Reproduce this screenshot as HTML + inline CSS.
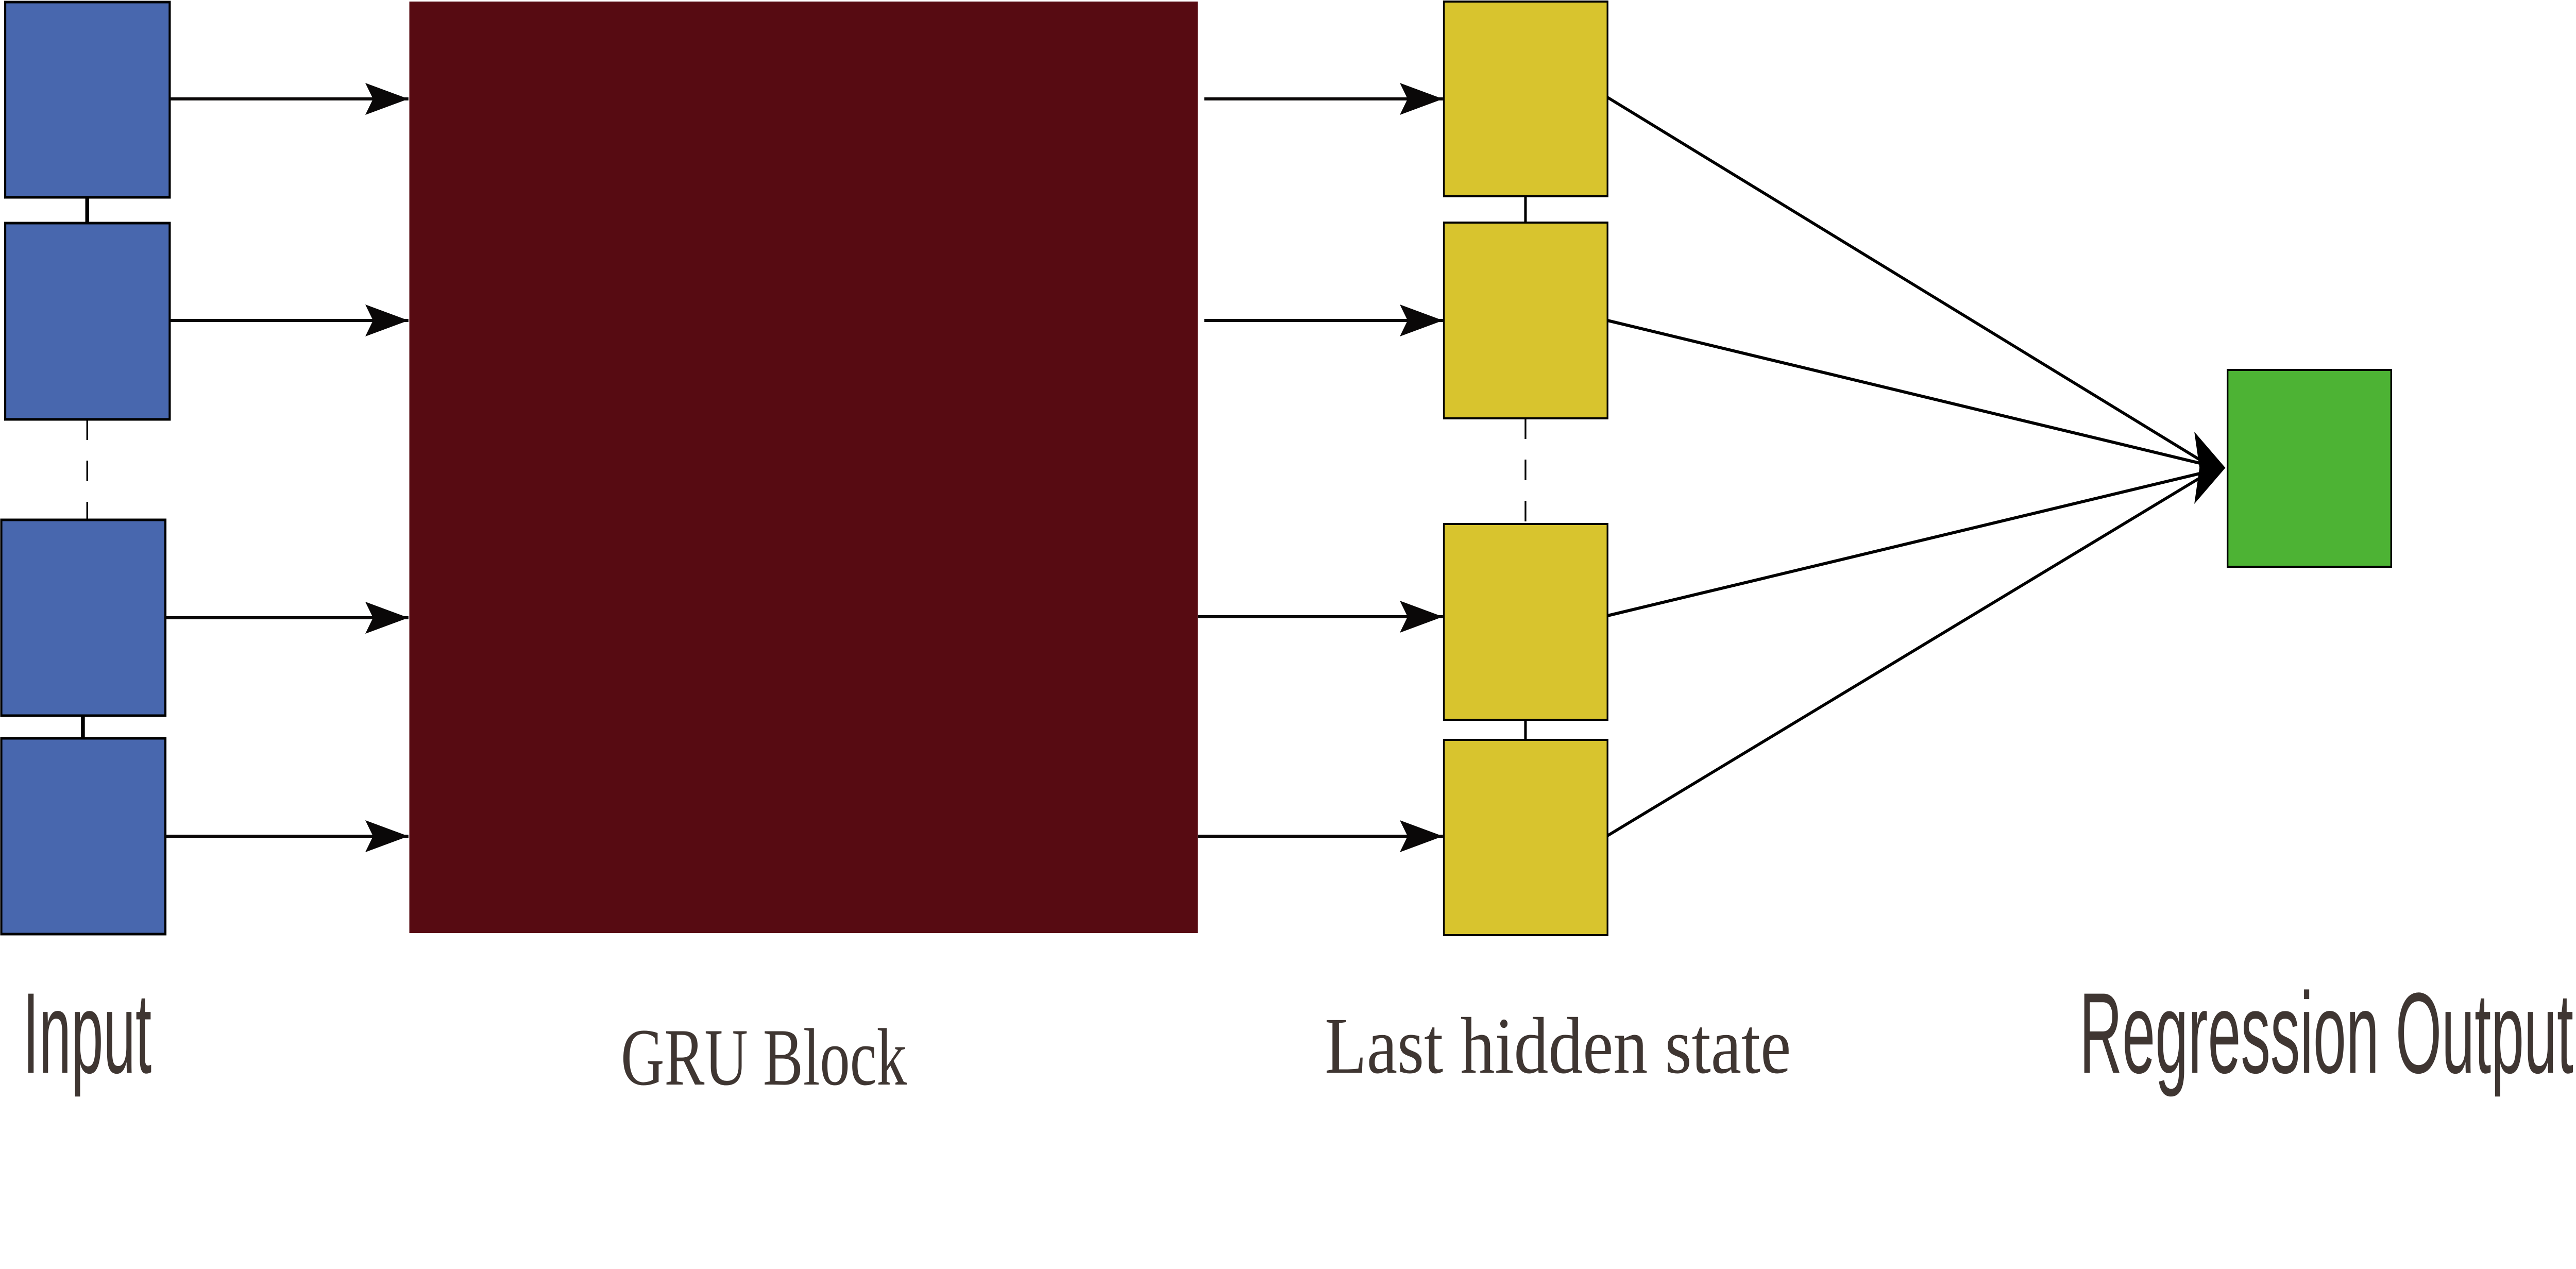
<!DOCTYPE html>
<html><head><meta charset="utf-8"><style>
html,body{margin:0;padding:0;background:#fff;overflow:hidden;width:100%;height:100%;}
svg{display:block;width:100vw;height:100vh;}
</style></head><body>
<svg viewBox="0 0 5966 2463" preserveAspectRatio="none" xmlns="http://www.w3.org/2000/svg">
<defs>
<marker id="ah" markerUnits="userSpaceOnUse" markerWidth="110" markerHeight="70" refX="100" refY="35" orient="auto" viewBox="0 0 110 70">
<path d="M100,35 L0,4 L18,35 L0,66 Z" fill="#0a0808"/>
</marker>
</defs>

<g stroke="#000" stroke-width="5">
<line x1="202" y1="383" x2="202" y2="433" stroke-width="9"/>
<line x1="202" y1="814" x2="202" y2="1009" stroke-width="4" stroke-dasharray="40,40"/>
<line x1="192" y1="1389" x2="192" y2="1433" stroke-width="9"/>
<rect x="12" y="4" width="381" height="379" fill="#4867ae"/>
<rect x="12" y="433" width="381" height="381" fill="#4867ae"/>
<rect x="3" y="1009" width="380" height="380" fill="#4867ae"/>
<rect x="3" y="1433" width="380" height="380" fill="#4867ae"/>
</g>

<g stroke="#0a0808" stroke-width="6">
<line x1="393" y1="192" x2="946" y2="192" marker-end="url(#ah)"/>
<line x1="393" y1="622" x2="946" y2="622" marker-end="url(#ah)"/>
<line x1="383" y1="1199" x2="946" y2="1199" marker-end="url(#ah)"/>
<line x1="383" y1="1623" x2="946" y2="1623" marker-end="url(#ah)"/>
</g>

<rect x="948" y="3" width="1826" height="1808" fill="#570b12"/>

<g stroke="#0a0808" stroke-width="6">
<line x1="2789" y1="192" x2="3342" y2="192" marker-end="url(#ah)"/>
<line x1="2789" y1="622" x2="3342" y2="622" marker-end="url(#ah)"/>
<line x1="2774" y1="1197" x2="3342" y2="1197" marker-end="url(#ah)"/>
<line x1="2774" y1="1623" x2="3342" y2="1623" marker-end="url(#ah)"/>
</g>

<g stroke="#000" stroke-width="4">
<line x1="3533" y1="381" x2="3533" y2="432" stroke-width="6"/>
<line x1="3533" y1="812" x2="3533" y2="1017" stroke-dasharray="40,40"/>
<line x1="3533" y1="1397" x2="3533" y2="1436" stroke-width="6"/>
<rect x="3344" y="3" width="379" height="378" fill="#d8c42e"/>
<rect x="3344" y="432" width="379" height="380" fill="#d8c42e"/>
<rect x="3344" y="1017" width="379" height="380" fill="#d8c42e"/>
<rect x="3344" y="1436" width="379" height="379" fill="#d8c42e"/>
</g>

<g stroke="#000" stroke-width="6" fill="none">
<line x1="3723" y1="189" x2="5100" y2="895"/>
<line x1="3723" y1="622" x2="5100" y2="900"/>
<line x1="3723" y1="1195" x2="5100" y2="918"/>
<line x1="3723" y1="1622" x2="5100" y2="925"/>
<path d="M5154,908 L5082,838 L5094,908 L5082,978 Z" fill="#000" stroke="none"/>
</g>

<rect x="5159" y="718" width="379" height="382" fill="#4db334" stroke="#000" stroke-width="4"/>

<g fill="#3f3632">
<text x="53" y="2082" font-family="'Liberation Sans', sans-serif" font-size="223" textLength="298" lengthAdjust="spacingAndGlyphs">Input</text>
<text x="1438" y="2105" font-family="'Liberation Serif', serif" font-size="158" textLength="662" lengthAdjust="spacingAndGlyphs">GRU Block</text>
<text x="3068" y="2082" font-family="'Liberation Serif', serif" font-size="156" textLength="1080" lengthAdjust="spacingAndGlyphs">Last hidden state</text>
<text x="4816" y="2082" font-family="'Liberation Sans', sans-serif" font-size="223" textLength="1144" lengthAdjust="spacingAndGlyphs">Regression Output</text>
</g>
</svg>
</body></html>
